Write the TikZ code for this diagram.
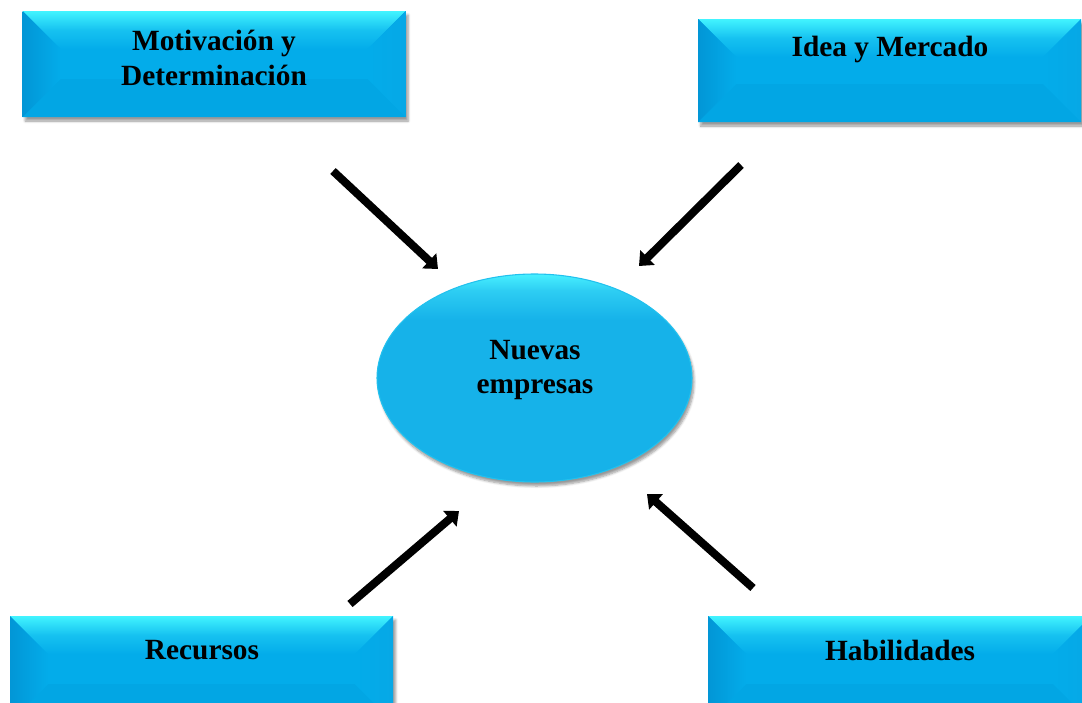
\documentclass[tikz,border=0pt]{standalone}
\usepackage{fontspec}
\setmainfont{Liberation Serif}
\usetikzlibrary{arrows.meta,shapes.geometric,shadows.blur}

\definecolor{boxbody}{RGB}{3,172,234}
\definecolor{boxtop}{RGB}{66,244,255}
\definecolor{boxleft}{RGB}{2,150,214}
\definecolor{boxright}{RGB}{6,168,230}
\definecolor{boxbottom}{RGB}{2,166,228}
\definecolor{ovaltop}{RGB}{72,240,255}
\definecolor{ovalbody}{RGB}{22,178,233}
\definecolor{ovalrimmix}{RGB}{45,205,243}

% flat body with a bright band along the top edge
\pgfdeclareverticalshading{ovalrim}{100bp}{%
  color(0bp)=(ovalbody); color(25bp)=(ovalbody); color(64bp)=(ovalbody);
  color(71bp)=(ovalrimmix); color(75bp)=(ovaltop); color(100bp)=(ovaltop)}

\tikzset{
  % raised rectangular panel with bevelled edges
  bevelbox/.style={
    rectangle, inner sep=0pt, outer sep=0pt,
    minimum width=287.25pt, minimum height=79.5pt,
    fill=boxbody,
    blur shadow={shadow xshift=2pt, shadow yshift=-3pt, shadow opacity=40, shadow blur steps=6},
    path picture={
      \def\bb{path picture bounding box}
      % bottom face
      \fill[boxbottom] (\bb.south west) -- (\bb.south east)
        -- ([xshift=-28.5pt,yshift=28.5pt]\bb.south east)
        -- ([xshift=28.5pt,yshift=28.5pt]\bb.south west) -- cycle;
      % top face, bright edge fading into the body colour
      \shade[top color=boxtop, bottom color=boxbody, middle color=boxbody!70!boxtop]
        (\bb.north west) -- (\bb.north east)
        -- ([xshift=-28.5pt,yshift=-28.5pt]\bb.north east)
        -- ([xshift=28.5pt,yshift=-28.5pt]\bb.north west) -- cycle;
      % left face
      \shade[left color=boxleft, right color=boxbody]
        (\bb.north west) -- ([xshift=28.5pt,yshift=-28.5pt]\bb.north west)
        -- ([xshift=28.5pt,yshift=28.5pt]\bb.south west)
        -- (\bb.south west) -- cycle;
      % right face
      \shade[right color=boxright, left color=boxbody]
        (\bb.north east) -- ([xshift=-28.5pt,yshift=-28.5pt]\bb.north east)
        -- ([xshift=-28.5pt,yshift=28.5pt]\bb.south east)
        -- (\bb.south east) -- cycle;
    }
  },
  % central oval
  hub/.style={
    ellipse, inner sep=0pt, outer sep=0pt,
    minimum width=236.25pt, minimum height=156pt,
    shade, shading=ovalrim, draw=ovalbody!75!ovaltop, line width=0.8pt,
    blur shadow={shadow xshift=1.5pt, shadow yshift=-3pt, shadow opacity=40, shadow blur steps=6}
  },
  label/.style={font=\bfseries\fontsize{22}{26}\selectfont, align=center, inner sep=0pt},
  feed/.style={line width=6pt, draw=black,
    -{Triangle[length=9pt, width=15pt]}}
}

\begin{document}
\begin{tikzpicture}[x=0.75pt, y=-0.75pt]
  \useasboundingbox (0,0) rectangle (1082,703);
  \clip (0,0) rectangle (1082,703);

  % panels
  \node[bevelbox] (motiv) at (214,64) {};
  \node[bevelbox, minimum height=77.25pt] (idea) at (889.5,70.5) {};
  \node[bevelbox] (recur) at (201.5,669) {};
  \node[bevelbox] (habil) at (899.5,669) {};

  % central oval
  \node[hub] (nuevas) at (534.5,378) {};

  % captions
  \node[label] (tmotiv) at (214,58) {Motivación y\\Determinación};
  \node[label] (tidea) at (890,49) {Idea y Mercado};
  \node[label] (trecur) at (202,650) {Recursos};
  \node[label] (thabil) at (900,650) {Habilidades};
  \node[label] (tnuevas) at (535,370) {Nuevas\\empresas};

  % arrow end points
  \coordinate (m1) at (333,171);
  \coordinate (m2) at (438,269);
  \coordinate (i1) at (741,165);
  \coordinate (i2) at (639,266);
  \coordinate (r1) at (350,604);
  \coordinate (r2) at (459,511);
  \coordinate (h1) at (753,588);
  \coordinate (h2) at (647,494);

  \draw[feed] (m1) -- (m2);
  \draw[feed] (i1) -- (i2);
  \draw[feed] (r1) -- (r2);
  \draw[feed] (h1) -- (h2);
\end{tikzpicture}
\end{document}
